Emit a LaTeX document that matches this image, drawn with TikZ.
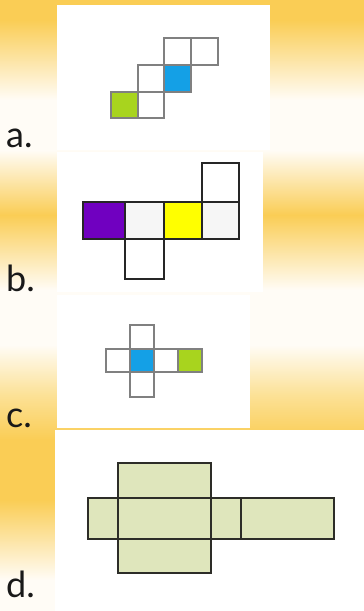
\documentclass[tikz,border=0pt]{standalone}
\usepackage{fontspec}
\setmainfont{Lato}
\definecolor{bgY}{RGB}{250,205,85}
\definecolor{bgLO}{RGB}{252,225,150}
\definecolor{bgW}{RGB}{255,252,246}
\definecolor{gridgray}{RGB}{128,128,128}
\definecolor{cblue}{RGB}{20,160,230}
\definecolor{cgreen}{RGB}{168,212,30}
\definecolor{cpurple}{RGB}{112,0,192}
\definecolor{cyellow}{RGB}{255,255,0}
\definecolor{cpale}{RGB}{246,246,246}
\definecolor{dfill}{RGB}{223,230,188}
\definecolor{dline}{RGB}{45,45,40}
\tikzset{
  panel/.style={fill=white, draw=none},
  cellA/.style={draw=gridgray, line width=1.1pt},
  cellB/.style={draw=black!85, line width=2.2pt},
  cellD/.style={draw=dline, line width=1.6pt, fill=dfill},
  lbl/.style={font=\fontsize{36}{38}\selectfont, text=black!90, inner sep=0pt, anchor=base west}
}
\begin{document}
\begin{tikzpicture}[x=1pt,y=-1pt]
\useasboundingbox (0,0) rectangle (364,611);
% background bands
\fill[bgY] (0,0) rectangle (364,20);
\shade[top color=bgY, bottom color=bgW] (0,20) rectangle (364,100);
\fill[bgW] (0,100) rectangle (364,150);
\shade[top color=bgW, bottom color=bgY] (0,150) rectangle (364,215);
\shade[top color=bgY, bottom color=bgW] (0,215) rectangle (364,290);
\fill[bgW] (0,290) rectangle (364,345);
\shade[top color=bgW, bottom color=bgLO] (0,345) rectangle (364,395);
\shade[top color=bgLO, bottom color=bgY] (0,395) rectangle (364,440);
\fill[bgY] (0,440) rectangle (364,500);
\shade[top color=bgY, bottom color=bgW] (0,500) rectangle (364,580);
\fill[bgW] (0,580) rectangle (364,611);
% panels
\fill[panel] (57,5) rectangle (270,150);
\fill[panel] (57,152) rectangle (263,292);
\fill[panel] (57,295) rectangle (250,428);
\fill[panel] (55,430) rectangle (364,611);
% panel a
\draw[cellA] (164,38) rectangle (191,65);
\draw[cellA] (191,38) rectangle (218,65);
\draw[cellA] (138,65) rectangle (164,92);
\draw[cellA, fill=cblue] (164,65) rectangle (191,92);
\draw[cellA, fill=cgreen] (111,92) rectangle (138,118);
\draw[cellA] (138,92) rectangle (164,118);
% panel b
\draw[cellB, fill=cpurple] (83,202) rectangle (125,239);
\draw[cellB, fill=cpale] (125,202) rectangle (164,239);
\draw[cellB, fill=cyellow] (164,202) rectangle (202,239);
\draw[cellB, fill=cpale] (202,202) rectangle (239,239);
\draw[cellB] (202,163) rectangle (239,202);
\draw[cellB] (125,239) rectangle (164,279);
% panel c
\draw[cellA] (106,349) rectangle (130,372);
\draw[cellA, fill=cblue] (130,349) rectangle (154,372);
\draw[cellA] (154,349) rectangle (178,372);
\draw[cellA, fill=cgreen] (178,349) rectangle (202,372);
\draw[cellA] (130,325) rectangle (154,349);
\draw[cellA] (130,372) rectangle (154,397);
% panel d
\draw[cellD] (88,498) rectangle (334,539);
\draw[cellD] (118,463) rectangle (211,573);
\draw[cellD, fill=none] (88,498) rectangle (334,539);
\draw[dline, line width=1.6pt] (241,498) -- (241,539);
% labels
\node[lbl] (la) at (6,147) {a.};
\node[lbl] (lb) at (6,291) {b.};
\node[lbl] (lc) at (6,427) {c.};
\node[lbl] (ld) at (6,597) {d.};
\end{tikzpicture}
\end{document}
